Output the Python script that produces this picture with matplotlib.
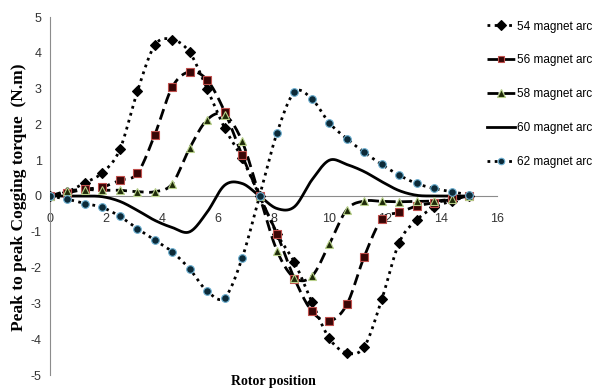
import numpy as np
import matplotlib
matplotlib.use("Agg")
import matplotlib.pyplot as plt

# ---- data ----
rotor_position = [0, 0.625, 1.25, 1.875, 2.5, 3.125, 3.75, 4.375, 5.0, 5.625, 6.25, 6.875,
                  7.5, 8.125, 8.75, 9.375, 10.0, 10.625, 11.25, 11.875, 12.5, 13.125, 13.75, 14.375, 15.0]

arc54 = [0, 0.12, 0.37, 0.65, 1.30, 2.92, 4.21, 4.37, 4.01, 2.99, 1.90, 1.06,
         0, -1.06, -1.85, -2.96, -3.98, -4.38, -4.21, -2.89, -1.30, -0.67, -0.32, -0.14, 0]
arc56 = [0, 0.09, 0.19, 0.25, 0.44, 0.63, 1.71, 3.04, 3.47, 3.24, 2.36, 1.14,
         0, -1.06, -2.31, -3.22, -3.49, -3.03, -1.69, -0.65, -0.46, -0.28, -0.19, -0.09, 0]
arc58 = [0, 0.14, 0.18, 0.16, 0.16, 0.12, 0.12, 0.34, 1.34, 2.13, 2.27, 1.53,
         0, -1.53, -2.29, -2.24, -1.34, -0.38, -0.14, -0.15, -0.16, -0.15, -0.14, -0.09, 0]
arc60 = [0, 0, 0, -0.02, -0.15, -0.40, -0.68, -0.88, -1.0, -0.45, 0.30, 0.35,
         0, -0.35, -0.30, 0.45, 1.0, 0.88, 0.68, 0.40, 0.15, 0.02, 0, 0, 0]
arc62 = [0, -0.09, -0.21, -0.32, -0.57, -0.91, -1.23, -1.56, -2.04, -2.66, -2.84, -1.74,
         0, 1.76, 2.90, 2.71, 2.04, 1.60, 1.22, 0.88, 0.58, 0.35, 0.21, 0.12, 0.03]

labels = ["54 magnet arc", "56 magnet arc", "58 magnet arc", "60 magnet arc", "62 magnet arc"]
x_ticks = [0, 2, 4, 6, 8, 10, 12, 14, 16]
y_ticks = [-5, -4, -3, -2, -1, 0, 1, 2, 3, 4, 5]


def smooth(x, y, n=20):
    """Catmull-Rom style smoothing for drawing (like Excel smoothed lines)."""
    x = np.asarray(x, float)
    y = np.asarray(y, float)
    px = np.concatenate([[2 * x[0] - x[1]], x, [2 * x[-1] - x[-2]]])
    py = np.concatenate([[2 * y[0] - y[1]], y, [2 * y[-1] - y[-2]]])
    xs, ys = [], []
    t = np.linspace(0, 1, n, endpoint=False)
    for i in range(1, len(px) - 2):
        p0, p1, p2, p3 = (np.array([px[j], py[j]]) for j in (i - 1, i, i + 1, i + 2))
        t2, t3 = t * t, t * t * t
        pts = 0.5 * ((2 * p1)[:, None] + (-p0 + p2)[:, None] * t
                     + (2 * p0 - 5 * p1 + 4 * p2 - p3)[:, None] * t2
                     + (-p0 + 3 * p1 - 3 * p2 + p3)[:, None] * t3)
        xs.extend(pts[0]); ys.extend(pts[1])
    xs.append(x[-1]); ys.append(y[-1])
    return np.array(xs), np.array(ys)


fig = plt.figure(figsize=(6, 3.9), dpi=100)
ax = fig.add_axes([50 / 600, 1 - 375 / 390, 447 / 600, 358 / 390])

tick_font = ['Liberation Sans', 'DejaVu Sans']

styles = [
    dict(data=arc54, ls=(0, (1, 1.6)), marker='D', mfc='black', mec='black', ms=5.5),
    dict(data=arc56, ls=(0, (4, 2)), marker='s', mfc='#3a0606', mec='#c0504d', ms=5.5),
    dict(data=arc58, ls=(0, (4, 2)), marker='^', mfc='#1e2a08', mec='#b8d08a', ms=6),
    dict(data=arc60, ls='-', marker=None, mfc=None, mec=None, ms=0),
    dict(data=arc62, ls=(0, (1, 1.6)), marker='o', mfc='#0c2a38', mec='#6aaed0', ms=5.5),
]

handles = []
for st, lab in zip(styles, labels):
    sx, sy = smooth(rotor_position, st['data'])
    ax.plot(sx, sy, color='black', lw=2, ls=st['ls'], zorder=3)
    if st['marker']:
        ax.plot(rotor_position, st['data'], ls='none', marker=st['marker'],
                mfc=st['mfc'], mec=st['mec'], ms=st['ms'], mew=0.8, zorder=4)
    h, = ax.plot([], [], color='black', lw=2, ls=st['ls'], marker=st['marker'],
                 mfc=st['mfc'], mec=st['mec'], ms=st['ms'] * 0.85, mew=0.8)
    handles.append(h)

ax.set_xlim(0, 16)
ax.set_ylim(-5, 5)
ax.spines['top'].set_visible(False)
ax.spines['right'].set_visible(False)
ax.spines['left'].set_color('#8c8c8c')
ax.spines['bottom'].set_position(('data', 0))
ax.spines['bottom'].set_color('#8c8c8c')
ax.set_xticks(x_ticks)
ax.set_yticks(y_ticks)
ax.set_xticklabels([str(v) for v in x_ticks], family=tick_font, fontsize=9, color='#333333')
ax.set_yticklabels([str(v) for v in y_ticks], family=tick_font, fontsize=9, color='#333333')
ax.tick_params(axis='x', length=0, pad=12)
ax.tick_params(axis='y', length=0, pad=6)

fig.text(19 / 600, 1 - 197 / 390, "Peak to peak Cogging torque  (N.m)", rotation=90,
         ha='center', va='center', family='Liberation Serif', fontweight='bold', fontsize=12.5)
fig.text(273 / 600, 1 - 381 / 390, "Rotor position", ha='center', va='center',
         family='Liberation Serif', fontweight='bold', fontsize=10)

leg = fig.legend(handles, labels, loc='upper left', bbox_to_anchor=(476 / 600, 1 - 10 / 390),
                 frameon=False, prop={'family': tick_font, 'size': 8.5},
                 handlelength=2.4, handletextpad=0.2, labelspacing=1.85)

fig.savefig("out.png", dpi=100)
